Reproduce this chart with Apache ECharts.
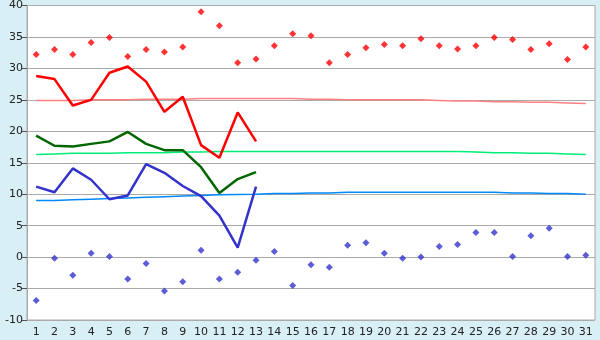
<!DOCTYPE html>
<html>
<head>
<meta charset="utf-8">
<script src="https://cdn.jsdelivr.net/npm/echarts@6/dist/echarts.min.js"></script>
<style>
html, body { margin: 0; padding: 0; background: #d9eff6; }
#chart { width: 600px; height: 340px; }
</style>
</head>
<body>
<div id="chart"></div>
<script>
var days = [];
for (var d = 1; d <= 31; d++) days.push(String(d));

var maxTemp = [32.2, 33.0, 32.2, 34.1, 34.9, 31.9, 33.0, 32.6, 33.4, 39.0, 36.8, 30.9, 31.5, 33.6, 35.5, 35.2,
    30.9, 32.2, 33.3, 33.8, 33.6, 34.7, 33.6, 33.1, 33.6, 34.9, 34.6, 33.0, 33.9, 31.4, 33.4];
var minTemp = [-6.9, -0.2, -2.9, 0.6, 0.1, -3.5, -1.0, -5.4, -3.9, 1.1, -3.5, -2.4, -0.5, 0.9, -4.5, -1.2,
    -1.6, 1.9, 2.3, 0.6, -0.2, 0.0, 1.7, 2.0, 3.9, 3.9, 0.1, 3.4, 4.6, 0.1, 0.3];
var avgMax = [28.8, 28.3, 24.1, 25.0, 29.3, 30.3, 27.9, 23.1, 25.5, 17.8, 15.8, 23.0, 18.4];
var avgMean = [19.3, 17.7, 17.6, 18.0, 18.4, 19.9, 18.0, 17.0, 17.0, 14.3, 10.2, 12.4, 13.5];
var avgMin = [11.2, 10.3, 14.1, 12.3, 9.2, 9.8, 14.8, 13.4, 11.3, 9.7, 6.6, 1.5, 11.2];
var normalMax = [24.9, 24.9, 24.9, 25.0, 25.0, 25.0, 25.1, 25.1, 25.1, 25.2, 25.2, 25.2, 25.2, 25.2, 25.2, 25.1,
    25.1, 25.0, 25.0, 25.0, 25.0, 25.0, 24.9, 24.8, 24.8, 24.7, 24.7, 24.6, 24.6, 24.5, 24.4];
var normalMean = [16.3, 16.4, 16.5, 16.5, 16.5, 16.6, 16.6, 16.6, 16.7, 16.7, 16.8, 16.8, 16.8, 16.8, 16.8, 16.8,
    16.8, 16.8, 16.8, 16.8, 16.8, 16.8, 16.8, 16.8, 16.7, 16.6, 16.6, 16.5, 16.5, 16.4, 16.3];
var normalMin = [9.0, 9.0, 9.1, 9.2, 9.3, 9.4, 9.5, 9.6, 9.7, 9.8, 9.9, 9.95, 10.0, 10.1, 10.1, 10.2,
    10.2, 10.3, 10.3, 10.3, 10.3, 10.3, 10.3, 10.3, 10.3, 10.3, 10.2, 10.2, 10.1, 10.1, 10.0];

var chart = echarts.init(document.getElementById('chart'));
var font = 'DejaVu Sans';

function thinLine(data, color) {
    return { type: 'line', data: data, symbol: 'none', silent: true, z: 2,
        lineStyle: { color: color, width: 1.5 } };
}
function thickLine(data, color) {
    return { type: 'line', data: data, symbol: 'none', z: 3,
        lineStyle: { color: color, width: 2.5 } };
}
function dots(data, color) {
    return { type: 'scatter', data: data, symbol: 'diamond', symbolSize: 7, z: 4,
        itemStyle: { color: color } };
}

chart.setOption({
    animation: false,
    backgroundColor: '#d9eff6',
    grid: {
        left: 27, right: 5, top: 5, bottom: 20,
        show: true, backgroundColor: '#ffffff', borderColor: '#aaaaaa', borderWidth: 1
    },
    xAxis: {
        type: 'category',
        data: days,
        boundaryGap: true,
        axisLine: { lineStyle: { color: '#aaaaaa' } },
        axisTick: { alignWithLabel: true, length: 5, lineStyle: { color: '#555555' } },
        axisLabel: { color: '#222222', fontFamily: font, fontSize: 11, margin: 7, interval: 0 },
        splitLine: { show: false }
    },
    yAxis: {
        type: 'value',
        min: -10, max: 40, interval: 5,
        axisLine: { show: true, lineStyle: { color: '#aaaaaa' } },
        axisTick: { show: true, length: 5, lineStyle: { color: '#555555' } },
        axisLabel: { color: '#222222', fontFamily: font, fontSize: 11, margin: 4 },
        splitLine: { lineStyle: { color: '#aaaaaa', width: 1 } }
    },
    series: [
        thinLine(normalMax, '#ff8080'),
        thinLine(normalMean, '#00ee77'),
        thinLine(normalMin, '#0088ff'),
        thickLine(avgMax, '#ff0000'),
        thickLine(avgMean, '#006600'),
        thickLine(avgMin, '#3333cc'),
        dots(maxTemp, '#ff0000'),
        dots(minTemp, '#3333cc')
    ]
});
</script>
</body>
</html>
